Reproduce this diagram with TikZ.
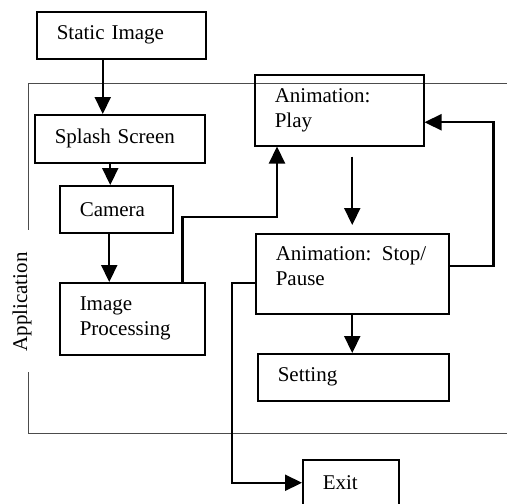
\documentclass[tikz,border=0pt]{standalone}
\usepackage{fontspec}
\setmainfont{Liberation Serif}
\usetikzlibrary{arrows.meta}
\tikzset{
  box/.style={draw, line width=1.5pt, anchor=north west, align=left, inner xsep=20pt, inner ysep=0pt},
  arr/.style={line width=2.2pt, -{Triangle[length=17pt,width=16pt]}},
  appframe/.style={draw=black!70, line width=0.9pt}
}
\begin{document}
\begin{tikzpicture}[x=1pt, y=-1pt, font=\fontsize{21}{25}\selectfont]
  \useasboundingbox (0,0) rectangle (507,504);
  \draw[appframe] (507,83) -- (28,83) -- (28,230);
  \draw[appframe] (28,372) -- (28,433) -- (507,433);
  \node (app) [rotate=90] at (22,302) {Application};

  \node (static) [box, text width=129pt, minimum height=47pt] at (36,11) {Static Image};
  \node (splash) [box, text width=130pt, minimum height=48pt] at (34,114) {Splash Screen};
  \node (camera) [box, text width=73pt, minimum height=47pt] at (59,185) {Camera};
  \node (ip) [box, text width=105pt, minimum height=72pt] at (59,282) {Image\\Processing};
  \node (play) [box, text width=129pt, minimum height=71pt] at (254,74) {Animation:\\Play};
  \node (stop) [box, text width=153pt, minimum height=80pt] at (255,233) {Animation: Stop/\\Pause\\[-10pt]\mbox{}};
  \node (setting) [box, text width=151pt, minimum height=47pt] at (257,353) {Setting};
  \node (exit) [box, text width=56pt, minimum height=46pt] at (302,459) {Exit};

  \draw[arr] ([xshift=-17pt]splash.north |- static.south) -- ([xshift=-17pt]splash.north);
  \draw[arr] ([xshift=-6pt]camera.north |- splash.south) -- ([xshift=-6pt]camera.north);
  \draw[arr] ([xshift=-7pt]camera.south) -- ([xshift=-7pt]camera.south |- ip.north);
  \draw[arr] ([xshift=-23pt]ip.north east) -- ++(0,-65) -| ([xshift=23pt]play.south west);
  \draw[arr, shorten <=10pt, shorten >=8pt] (play.south -| stop.north) -- (stop.north);
  \draw[arr] ([yshift=8pt]stop.east) -- ++(44,0) |- ([yshift=-12pt]play.east);
  \draw[arr] (stop.south) -- (stop.south |- setting.north);
  \draw[arr] ([yshift=-9pt]stop.west) -- ++(-23,0) |- (exit.west);
\end{tikzpicture}
\end{document}
